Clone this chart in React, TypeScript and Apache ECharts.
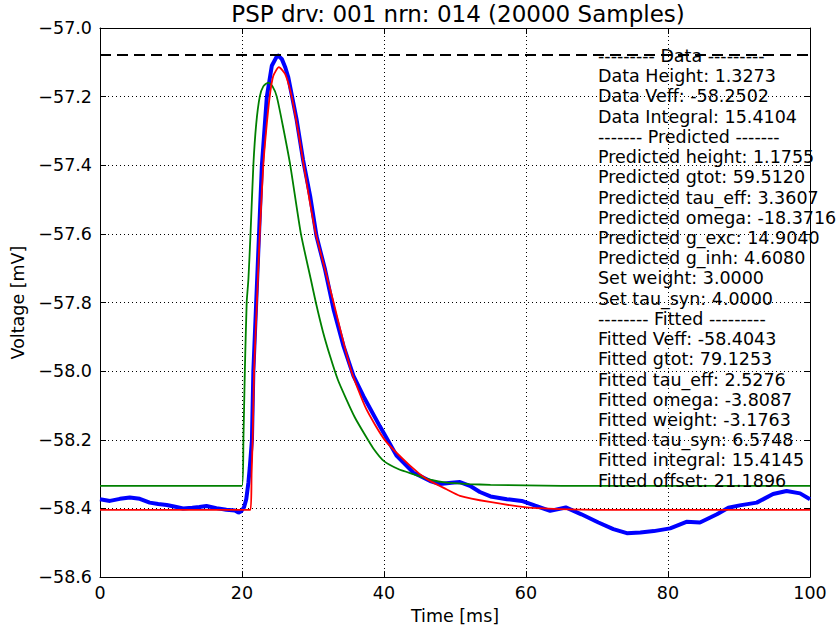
import React, { useEffect, useRef } from "react";
import * as echarts from "echarts";

const titleText = "PSP drv: 001 nrn: 014 (20000 Samples)";
const xTicks = [0, 20, 40, 60, 80, 100];
const dataPeak = -57.0785;

const dataTrace: [number, number][] = [
  [0, -58.373], [1.4, -58.378], [2.8, -58.372], [4.2, -58.368], [5.6, -58.372],
  [7.0, -58.383], [8.2, -58.387], [9.4, -58.39], [10.6, -58.395], [11.7, -58.4],
  [13.0, -58.398], [14.0, -58.396], [15.0, -58.393], [16.4, -58.399], [17.8, -58.404],
  [19.0, -58.406], [19.5, -58.412], [19.9, -58.408], [20.3, -58.396], [20.6, -58.373],
  [20.9, -58.325], [21.1, -58.28], [21.4, -58.2], [21.6, -58.0], [22.0, -57.8],
  [22.4, -57.6], [22.8, -57.4], [23.5, -57.2], [24.2, -57.11], [25.0, -57.079],
  [25.6, -57.09], [26.1, -57.115], [26.5, -57.142], [27.7, -57.268], [28.6, -57.384],
  [29.6, -57.49], [30.5, -57.607], [31.7, -57.704], [32.9, -57.82], [34.3, -57.927],
  [35.7, -58.014], [37.1, -58.073], [39.4, -58.16], [41.8, -58.247], [44.1, -58.295],
  [46.5, -58.32], [47.9, -58.329], [49.5, -58.325], [50.7, -58.323], [52.1, -58.334],
  [53.5, -58.352], [55.0, -58.365], [57.3, -58.373], [59.4, -58.378], [61.3, -58.392],
  [63.4, -58.407], [65.6, -58.397], [67.8, -58.417], [70.2, -58.441], [72.3, -58.46],
  [74.2, -58.472], [76.1, -58.47], [78.0, -58.466], [80.3, -58.458], [82.6, -58.439],
  [84.5, -58.441], [86.9, -58.417], [88.5, -58.398], [90.1, -58.391], [92.5, -58.383],
  [94.8, -58.358], [96.7, -58.349], [98.6, -58.356], [100, -58.373],
];

const predicted: [number, number][] = [
  [0, -58.334], [20.0, -58.334], [20.2, -58.2], [20.4, -58.0], [20.66, -57.8],
  [20.9, -57.733], [21.2, -57.6], [21.6, -57.4], [22.0, -57.28], [22.5, -57.2],
  [23.0, -57.17], [23.7, -57.159], [24.3, -57.17], [24.9, -57.2], [25.8, -57.29],
  [26.8, -57.4], [28.3, -57.6], [29.7, -57.733], [30.4, -57.8], [31.4, -57.885],
  [32.4, -57.956], [33.5, -58.025], [34.7, -58.082], [35.9, -58.135], [37.1, -58.178],
  [38.5, -58.225], [40.0, -58.262], [42.0, -58.285], [44.1, -58.3], [46.5, -58.316],
  [48.8, -58.325], [52.0, -58.329], [55.0, -58.331], [65.0, -58.334], [100, -58.334],
];

const fitted: [number, number][] = [
  [0, -58.4043], [21.19, -58.4043], [21.35, -58.3], [21.5, -58.2], [21.7, -58.0],
  [22.1, -57.8], [22.5, -57.6], [23.0, -57.4], [23.4, -57.3], [23.9, -57.2],
  [24.4, -57.14], [25.2, -57.114], [26.1, -57.135], [27.0, -57.2], [27.9, -57.3],
  [28.7, -57.4], [29.5, -57.5], [30.4, -57.6], [31.7, -57.704], [32.9, -57.8],
  [34.1, -57.9], [35.4, -58.0], [37.5, -58.11], [40.1, -58.2], [43.7, -58.276],
  [46.0, -58.314], [48.8, -58.344], [50.7, -58.363], [54.9, -58.381], [60.1, -58.397],
  [64.8, -58.402], [70.0, -58.404], [100, -58.4043],
];

const infoLines = [
  "--------- Data ---------",
  "Data Height: 1.3273",
  "Data Veff: -58.2502",
  "Data Integral: 15.4104",
  "------- Predicted -------",
  "Predicted height: 1.1755",
  "Predicted gtot: 59.5120",
  "Predicted tau_eff: 3.3607",
  "Predicted omega: -18.3716",
  "Predicted g_exc: 14.9040",
  "Predicted g_inh: 4.6080",
  "Set weight: 3.0000",
  "Set tau_syn: 4.0000",
  "-------- Fitted ---------",
  "Fitted Veff: -58.4043",
  "Fitted gtot: 79.1253",
  "Fitted tau_eff: 2.5276",
  "Fitted omega: -3.8087",
  "Fitted weight: -3.1763",
  "Fitted tau_syn: 6.5748",
  "Fitted integral: 15.4145",
  "Fitted offset: 21.1896",
];

const FONT = "DejaVu Sans";

export default function App() {
  const ref = useRef<HTMLDivElement>(null);
  useEffect(() => {
    if (!ref.current) return;
    const chart = echarts.init(ref.current, null, { renderer: "svg" });
    const gridLine = { show: true, lineStyle: { color: "#000", width: 1, type: [1, 3] as any } };
    const tick = { show: true, inside: true, length: 6, lineStyle: { color: "#000", width: 1 } };
    const axisLine = { show: true, onZero: false, lineStyle: { color: "#000", width: 1 } };
    const fmtY = (v: number) => v.toFixed(1).replace("-", "\u2212");
    chart.setOption({
      animation: false,
      backgroundColor: "#fff",
      textStyle: { fontFamily: FONT },
      grid: { left: 100, right: 26, top: 28, bottom: 52, containLabel: false },
      xAxis: [
        {
          type: "value", min: 0, max: 100, interval: 20, position: "bottom",
          name: "Time [ms]", nameLocation: "middle", nameGap: 27,
          nameTextStyle: { fontFamily: FONT, fontSize: 17.5, color: "#000" },
          axisLine, axisTick: tick, splitLine: gridLine,
          axisLabel: { show: true, fontFamily: FONT, fontSize: 17.5, color: "#000", margin: 7,
            formatter: (v: number) => (xTicks.includes(v) ? String(v) : "") },
        },
        {
          type: "value", min: 0, max: 100, interval: 20, position: "top",
          axisLine, axisTick: tick, splitLine: { show: false }, axisLabel: { show: false },
        },
      ],
      yAxis: [
        {
          type: "value", min: -58.6, max: -57.0, interval: 0.2, position: "left",
          name: "Voltage [mV]", nameLocation: "middle", nameGap: 72,
          nameTextStyle: { fontFamily: FONT, fontSize: 17.5, color: "#000" },
          axisLine, axisTick: tick, splitLine: gridLine,
          axisLabel: { show: true, fontFamily: FONT, fontSize: 17.5, color: "#000", margin: 8, formatter: fmtY },
        },
        {
          type: "value", min: -58.6, max: -57.0, interval: 0.2, position: "right",
          axisLine, axisTick: tick, splitLine: { show: false }, axisLabel: { show: false },
        },
      ],
      series: [
        {
          type: "line", data: dataTrace, showSymbol: false, symbol: "none",
          lineStyle: { color: "#0000ff", width: 4 }, z: 2,
        },
        {
          type: "line", data: predicted, showSymbol: false, symbol: "none", smooth: 0.2,
          lineStyle: { color: "#008000", width: 1.8 }, z: 3,
        },
        {
          type: "line", data: fitted, showSymbol: false, symbol: "none", smooth: 0.2,
          lineStyle: { color: "#ff0000", width: 1.8 }, z: 4,
        },
        {
          type: "line", data: [[0, dataPeak], [100, dataPeak]], showSymbol: false, symbol: "none",
          lineStyle: { color: "#000", width: 2, type: [11, 6] as any }, z: 5,
        },
      ],
      graphic: [
        {
          type: "text", x: 458, y: 14, z: 10,
          style: { text: titleText, fontFamily: FONT, fontSize: 23, fill: "#000", textAlign: "center", textVerticalAlign: "middle" },
        },
        ...infoLines.map((line, i) => ({
          type: "text", x: 598, y: 56 + i * 20.22, z: 10,
          style: { text: line, fontFamily: FONT, fontSize: 17.5, fill: "#000", textAlign: "left", textVerticalAlign: "middle" },
        })),
      ],
    });
    return () => chart.dispose();
  }, []);
  return <div ref={ref} style={{ width: 836, height: 630, position: "absolute", left: 0, top: 0 }} />;
}
